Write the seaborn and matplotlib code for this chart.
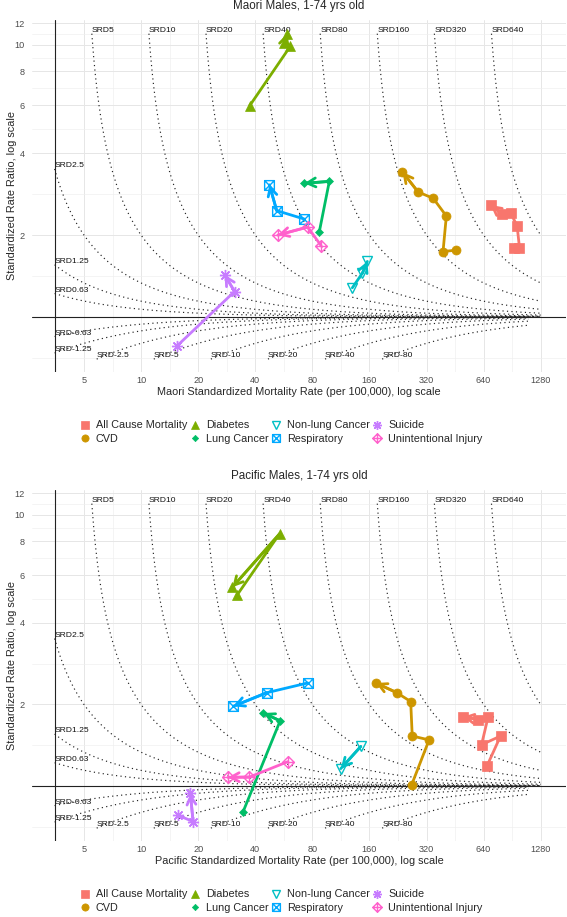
import numpy as np
import pandas as pd
import matplotlib
matplotlib.use('Agg')
import matplotlib.pyplot as plt
from matplotlib.path import Path
from matplotlib.lines import Line2D
from matplotlib.ticker import FixedLocator, NullFormatter
import seaborn as sns

# --- data (path order = oldest -> latest period) ---
causes = ['All Cause Mortality', 'CVD', 'Diabetes', 'Lung Cancer',
          'Non-lung Cancer', 'Respiratory', 'Suicide', 'Unintentional Injury']
palette = ['#F8766D', '#CD9600', '#7CAE00', '#00BE67',
           '#00BFC4', '#00A9FF', '#C77CFF', '#FF61CC']

maori_cause = (['All Cause Mortality'] * 6 + ['CVD'] * 6 + ['Diabetes'] * 4 +
               ['Lung Cancer'] * 3 + ['Non-lung Cancer'] * 3 + ['Respiratory'] * 3 +
               ['Suicide'] * 3 + ['Unintentional Injury'] * 3)
maori_rate = [923, 989, 961, 890, 801, 696,
              459, 391, 407, 347, 289, 239,
              37.4, 61.3, 57.0, 58.9,
              87.1, 98.3, 72.6,
              130, 147, 156,
              72.6, 51.9, 47.5,
              15.4, 31.1, 27.6,
              88.9, 75.6, 52.6]
maori_rr = [1.80, 1.80, 2.16, 2.41, 2.39, 2.58,
            1.76, 1.74, 2.35, 2.73, 2.88, 3.41,
            5.98, 9.9, 10.2, 11.0,
            2.06, 3.15, 3.10,
            1.28, 1.45, 1.60,
            2.29, 2.46, 3.06,
            0.78, 1.24, 1.43,
            1.83, 2.14, 2.00]

pacific_cause = (['All Cause Mortality'] * 6 + ['CVD'] * 6 + ['Diabetes'] * 3 +
                 ['Lung Cancer'] * 3 + ['Non-lung Cancer'] * 2 + ['Respiratory'] * 3 +
                 ['Suicide'] * 3 + ['Unintentional Injury'] * 3)
pacific_rate = [668, 786, 624, 676, 599, 498,
                267, 330, 269, 264, 223, 173,
                32.0, 53.7, 30.3,
                34.4, 54.1, 44.2,
                144, 113,
                75.6, 46.0, 30.7,
                15.7, 18.8, 18.2,
                59.3, 37.3, 28.7]
pacific_rr = [1.19, 1.53, 1.42, 1.80, 1.76, 1.80,
              1.01, 1.48, 1.53, 2.05, 2.21, 2.40,
              5.05, 8.51, 5.41,
              0.80, 1.74, 1.86,
              1.40, 1.16,
              2.40, 2.21, 1.97,
              0.78, 0.74, 0.94,
              1.23, 1.08, 1.077]

srd_pos = [0.63, 1.25, 2.5, 5, 10, 20, 40, 80, 160, 320, 640]
srd_neg = [-0.63, -1.25, -2.5, -5, -10, -20, -40, -80]

x_ticks = [5, 10, 20, 40, 80, 160, 320, 640, 1280]
y_ticks = [2, 4, 6, 8, 10, 12]

X_MIN = 3.5

# marker shapes (ggplot 15,16,17,18,6,7,8,9)
sq_x = Path([(-1, -1), (1, -1), (1, 1), (-1, 1), (-1, -1), (-1, -1), (1, 1), (-1, 1), (1, -1)],
            [Path.MOVETO, Path.LINETO, Path.LINETO, Path.LINETO, Path.CLOSEPOLY,
             Path.MOVETO, Path.LINETO, Path.MOVETO, Path.LINETO])
dia_plus = Path([(0, -1), (1, 0), (0, 1), (-1, 0), (0, -1), (0, -1), (0, 1), (-1, 0), (1, 0)],
                [Path.MOVETO, Path.LINETO, Path.LINETO, Path.LINETO, Path.CLOSEPOLY,
                 Path.MOVETO, Path.LINETO, Path.MOVETO, Path.LINETO])
marker_style = {
    'All Cause Mortality': dict(marker='s', ms=6.5, filled=True),
    'CVD': dict(marker='o', ms=6.5, filled=True),
    'Diabetes': dict(marker='^', ms=7, filled=True),
    'Lung Cancer': dict(marker='D', ms=4, filled=True),
    'Non-lung Cancer': dict(marker='v', ms=7, filled=False),
    'Respiratory': dict(marker=sq_x, ms=7, filled=False),
    'Suicide': dict(marker=(8, 2, 0), ms=8, filled=False),
    'Unintentional Injury': dict(marker=dia_plus, ms=8.5, filled=False),
}
colors = dict(zip(causes, palette))

sns.set_style('white')
plt.rcParams['font.family'] = ['Liberation Sans', 'DejaVu Sans']

W, H = 567, 917
fig = plt.figure(figsize=(W / 100, H / 100), dpi=100)


def px_rect(left, top, right, bottom):
    return [left / W, 1 - bottom / H, (right - left) / W, (bottom - top) / H]


def marker_kw(c, scale=1.0):
    st = marker_style[c]
    kw = dict(marker=st['marker'], ms=st['ms'] * scale, color=colors[c], ls='none')
    if st['filled']:
        kw.update(mec=colors[c], mfc=colors[c], mew=0.5)
    else:
        kw.update(mfc='none', mec=colors[c], mew=1.0)
    return kw


def draw_panel(top, bottom, rate, rr, cause_list, title, xlabel):
    ax = fig.add_axes(px_rect(32, top, 566, bottom))
    ax.set_xscale('log')
    ax.set_yscale('log')
    ax.set_xlim(2.66, 1740)
    ax.set_ylim(0.6275, 12.35)

    # grid
    ax.xaxis.set_major_locator(FixedLocator(x_ticks))
    ax.xaxis.set_minor_locator(FixedLocator([np.sqrt(a * b) for a, b in zip(x_ticks[:-1], x_ticks[1:])]))
    ax.yaxis.set_major_locator(FixedLocator(y_ticks))
    ax.yaxis.set_minor_locator(FixedLocator([0.707, 1.414, np.sqrt(8), np.sqrt(24), np.sqrt(48),
                                             np.sqrt(80), np.sqrt(120)]))
    ax.set_xticklabels([str(t) for t in x_ticks])
    ax.set_yticklabels([str(t) for t in y_ticks])
    ax.xaxis.set_minor_formatter(NullFormatter())
    ax.yaxis.set_minor_formatter(NullFormatter())
    ax.grid(True, which='major', color='#E6E6E6', lw=0.7)
    ax.grid(True, which='minor', color='#EFEFEF', lw=0.45)
    ax.tick_params(which='both', length=0, labelsize=6.6, labelcolor='#4D4D4D')
    ax.tick_params(axis='x', pad=3)
    ax.tick_params(axis='y', pad=5)
    for s in ax.spines.values():
        s.set_visible(False)

    # SRD reference curves
    for d in srd_pos + srd_neg:
        if d > 0:
            x0 = max(X_MIN, 1.1 * d)
            x1 = 1280
        else:
            x0 = max(X_MIN, 7 / 3 * abs(d))
            x1 = 1100
        xs = np.geomspace(x0, x1, 500)
        ys = xs / (xs - d)
        ax.plot(xs, ys, color='#222222', lw=0.85, ls=(0, (1, 2.8)), zorder=1)
        lab = 'SRD' + ('%g' % d)
        ax.text(x0, ys[0], lab, fontsize=6.1, ha='left', va='bottom', color='#111111', zorder=2)

    ax.axhline(1, color='#222222', lw=0.8, zorder=2)
    ax.axvline(X_MIN, color='#222222', lw=0.8, zorder=2)

    df = pd.DataFrame({'cause': cause_list, 'rate': rate, 'rr': rr})
    sns.lineplot(data=df, x='rate', y='rr', hue='cause', hue_order=causes, palette=palette,
                 sort=False, estimator=None, lw=2, legend=False, ax=ax, zorder=3)
    ax.set_xlabel('')
    ax.set_ylabel('')
    for c in causes:
        sub = df[df['cause'] == c]
        ax.plot(sub['rate'], sub['rr'], zorder=4, **marker_kw(c))
        xs, ys = sub['rate'].values, sub['rr'].values
        ax.annotate('', xy=(xs[-1], ys[-1]), xytext=(xs[-2], ys[-2]),
                    arrowprops=dict(arrowstyle='->, head_length=0.6, head_width=0.32',
                                    color=colors[c], lw=2, shrinkA=0, shrinkB=0),
                    zorder=5)

    mid = (top + bottom) / 2
    fig.text(299 / W, 1 - (top - 14) / H, title, ha='center', va='center', fontsize=8.4)
    fig.text(12 / W, 1 - mid / H, 'Standardized Rate Ratio, log scale', rotation=90,
             ha='center', va='center', fontsize=7.8)
    fig.text(299 / W, 1 - (bottom + 20) / H, xlabel, ha='center', va='center', fontsize=7.8)

    handles = [Line2D([], [], **marker_kw(c, 0.8)) for c in causes]
    fig.legend(handles, causes, loc='center', bbox_to_anchor=(281 / W, 1 - (bottom + 60) / H),
               ncol=4, frameon=False, fontsize=7.8, handlelength=1.0, handletextpad=0.5,
               columnspacing=0.2, labelspacing=0.3, borderaxespad=0)
    return ax


draw_panel(20, 372, maori_rate, maori_rr, maori_cause, 'Maori Males, 1-74 yrs old',
           'Maori Standardized Mortality Rate (per 100,000), log scale')
draw_panel(490, 841, pacific_rate, pacific_rr, pacific_cause, 'Pacific Males, 1-74 yrs old',
           'Pacific Standardized Mortality Rate (per 100,000), log scale')

fig.savefig('out.png', dpi=100, facecolor='white')
